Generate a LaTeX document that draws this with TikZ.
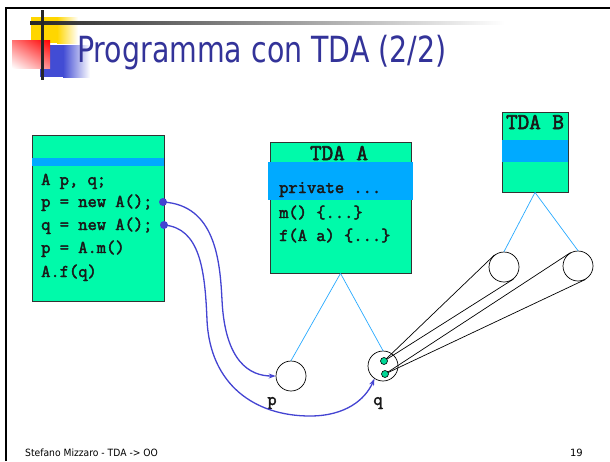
\documentclass[tikz,border=0pt]{standalone}
\usepackage{fontspec}
\usepackage{graphicx}
\setmainfont{DejaVu Sans}
\newfontfamily\courfont[FakeBold=2.5]{Latin Modern Mono}
\usetikzlibrary{arrows.meta,shadings}
\definecolor{boxgreen}{RGB}{0,250,170}
\definecolor{bandblue}{RGB}{0,170,255}
\definecolor{linkblue}{RGB}{68,68,210}
\definecolor{treeblue}{RGB}{40,170,255}
\definecolor{titleblue}{RGB}{51,51,153}
\definecolor{logoyellow}{RGB}{255,214,0}
\definecolor{logoblue}{RGB}{66,76,212}
\definecolor{dotgreen}{RGB}{0,215,150}
\begin{document}
\begin{tikzpicture}[x=1pt,y=-1pt,
  tdabox/.style={draw=black!80, line width=0.8pt, fill=boxgreen, rectangle, inner sep=0pt},
  band/.style={fill=bandblue},
  code/.style={font=\courfont\fontsize{18}{18}\selectfont, text=black!90, inner sep=0pt, anchor=base west},
  boxtitle/.style={font=\courfont\fontsize{22.5}{22.5}\selectfont, text=black!90, inner sep=0pt, anchor=base},
  obj/.style={circle, draw=black, line width=0.7pt, fill=white, minimum size=30pt, inner sep=0pt},
  ref/.style={circle, draw=black, line width=0.6pt, fill=dotgreen, minimum size=7pt, inner sep=0pt},
  anchordot/.style={circle, fill=linkblue, minimum size=8pt, inner sep=0pt},
  tree/.style={draw=treeblue, line width=0.7pt},
  link/.style={draw=linkblue, line width=1.3pt, -{Stealth[length=7pt,width=5pt]}},
  cone/.style={draw=black, line width=0.7pt},
  varlabel/.style={font=\courfont\fontsize{18}{18}\selectfont, text=black!90, inner sep=0pt, anchor=base}
]
\useasboundingbox (0,0) rectangle (610,461);
\fill[white] (0,0) rectangle (610,461);

% slide frame
\draw[line width=2.5pt] (6,461) -- (6,8) -- (610,8);

% logo
\fill[logoyellow] (31,17) rectangle (57,43);
\shade[left color=logoyellow, right color=white] (57,17) rectangle (78,43);
\fill[logoblue] (40,45) rectangle (63,77);
\shade[left color=logoblue, right color=white] (63,45) rectangle (90,77);
\shade[upper left=red!55!white, upper right=red, lower left=white, lower right=red!45!white] (12,40) rectangle (50,68);
\shade[left color=black!85, right color=white] (30,21.5) rectangle (505,24.5);
\fill[black!85] (40.5,10) rectangle (43.5,80);

% title
\node[anchor=base west, text=titleblue, font=\fontsize{36}{36}\selectfont, inner sep=0pt] (title) at (77,62) {\scalebox{0.79}[1]{Programma con TDA (2/2)}};

% program box
\node[tdabox, minimum width=132pt, minimum height=166pt] (prog) at (98,218) {};
\fill[band] (32,158) rectangle (164,166);
\node[code] (l1) at (41,185) {A p, q;};
\node[code] (l2) at (41,207) {p = new A();};
\node[code] (l3) at (41,230) {q = new A();};
\node[code] (l4) at (41,253) {p = A.m()};
\node[code] (l5) at (41,277) {A.f(q)};
\node[anchordot] (d1) at (163,202) {};
\node[anchordot] (d2) at (164,225) {};

% TDA A
\node[tdabox, minimum width=141pt, minimum height=131pt] (ta) at (340.5,207.5) {};
\fill[band] (268,162) rectangle (413,200);
\node[boxtitle] (tatitle) at (339,160) {TDA A};
\node[code] (a1) at (279,193) {private ...};
\node[code] (a2) at (279,218) {m() \{...\}};
\node[code] (a3) at (279,241) {f(A a) \{...\}};

% TDA B
\node[tdabox, minimum width=66pt, minimum height=80pt] (tb) at (535,152) {};
\fill[band] (502,140) rectangle (568,162);
\node[boxtitle] (tbtitle) at (535,129) {TDA B};

% objects
\node[obj] (p) at (291,376) {};
\node[obj] (q) at (383,366) {};
\node[obj] (b1) at (504,267) {};
\node[obj] (b2) at (578,266) {};
\node[varlabel] (pl) at (272,405) {p};
\node[varlabel] (ql) at (378,405) {q};

% tree lines
\draw[tree] (ta.south) -- (p.north);
\draw[tree] (ta.south) -- (q.north);
\draw[tree] (tb.south) -- (b1.north);
\draw[tree] (tb.south) -- (b2.north);

% references inside q
\coordinate (c1) at (384,361);
\coordinate (c2) at (385,374);
\draw[cone] (c1) -- (b1.128);
\draw[cone] (c1) -- (b1.308);
\draw[cone] (c2) -- (b2.119);
\draw[cone] (c2) -- (b2.299);
\node[ref] (r1) at (c1) {};
\node[ref] (r2) at (c2) {};

% links
\draw[link] (d1.center) .. controls (215,205) and (220,260) .. (222,300)
  .. controls (225,362) and (250,376) .. (p.west);
\draw[link] (d2.center) .. controls (200,228) and (205,270) .. (207,320)
  .. controls (210,385) and (255,416) .. (310,416)
  .. controls (345,416) and (365,400) .. (q.236);

% footer
\node[anchor=base west, font=\fontsize{10}{10}\selectfont, inner sep=0pt] (footer) at (25,456) {\scalebox{0.92}[1]{Stefano Mizzaro - TDA -> OO}};
\node[anchor=base east, font=\fontsize{10}{10}\selectfont, inner sep=0pt] (page) at (583,456) {19};
\end{tikzpicture}
\end{document}
